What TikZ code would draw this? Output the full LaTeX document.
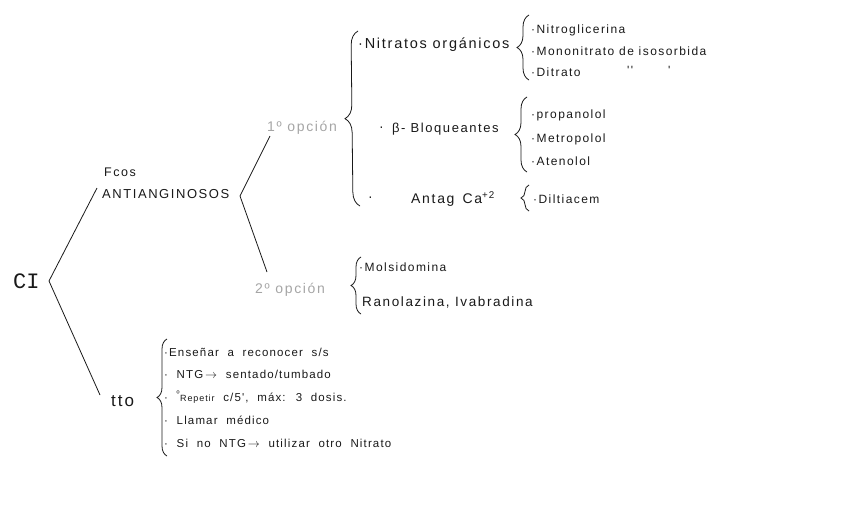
\documentclass[tikz,border=0pt]{standalone}
\usepackage{fontspec}
\setmainfont{Liberation Sans}
\newfontfamily\hand[LetterSpace=12]{Liberation Sans}
\newfontfamily\handw[LetterSpace=10,WordSpace=2]{Liberation Sans}
\newfontfamily\handmono{Liberation Mono}
\usetikzlibrary{decorations.pathreplacing}
\definecolor{pen}{RGB}{25,25,25}
\definecolor{pencil}{RGB}{165,165,165}
\newcommand{\arr}{\,$\rightarrow$}
\begin{document}
\begin{tikzpicture}[x=1pt,y=-1pt,
  txt/.style={anchor=west,inner sep=0pt,text=pen},
  bigt/.style={txt,font=\hand\fontsize{14}{14}\selectfont},
  midt/.style={txt,font=\hand\fontsize{12}{12}\selectfont},
  smallt/.style={txt,font=\handw\fontsize{11.5}{11.5}\selectfont},
  grayt/.style={txt,text=pencil,font=\hand\fontsize{14}{14}\selectfont},
  branch/.style={draw=pen,line width=0.8pt},
  bracket/.style={draw=pen,line width=0.8pt,decorate,decoration={brace,amplitude=#1}},
  bracket/.default=10pt]
\useasboundingbox (0,0) rectangle (848,530);

% root
\node[txt,font=\handmono\fontsize{22}{22}\selectfont] (ci) at (13,281) {CI};
\coordinate (civ) at (49,281);
\coordinate (fcosend) at (97,188);
\coordinate (ttoend) at (100,395);
\draw[branch] (fcosend) -- (civ) -- (ttoend);

% fármacos antianginosos
\node[midt,font=\hand\fontsize{12.5}{12.5}\selectfont] (fcos) at (104,172) {Fcos};
\node[midt,font=\hand\fontsize{13}{13}\selectfont] (anti) at (102,194) {ANTIANGINOSOS};
\coordinate (antiv) at (240,196);
\coordinate (op1end) at (270,136);
\coordinate (op2end) at (267,272);
\draw[branch] (op1end) -- (antiv) -- (op2end);

\node[grayt] (op1) at (267,128) {1º opción};
\node[grayt] (op2) at (255,290) {2º opción};

% 1a opcion brace
\coordinate (b1top) at (358,31);
\coordinate (b1bot) at (360,206);
\draw[bracket=14pt] (b1bot) -- (b1top);

\node[bigt,font=\hand\fontsize{14.5}{14.5}\selectfont] (nitr) at (358,45) {·Nitratos orgánicos};
\draw[bracket=12pt] (529,80) coordinate (b2bot) -- (529,15) coordinate (b2top);
\node[midt] (ng) at (531,30) {·Nitroglicerina};
\node[midt] (mn) at (531,51) {·Mononitrato de isosorbida};
\node[midt] (dn) at (531,72) {·Ditrato};
\node[midt] (dit1) at (627,70) {''};
\node[midt] (dit2) at (668,70) {'};

\node[bigt] (dot2) at (379,129) {·};
\node[bigt,font=\hand\fontsize{13}{13}\selectfont] (beta) at (392,129) {β- Bloqueantes};
\draw[bracket=12pt] (527,172) coordinate (b3bot) -- (527,97) coordinate (b3top);
\node[midt] (pr) at (531,115) {·propanolol};
\node[midt] (me) at (531,139) {·Metropolol};
\node[midt] (at) at (531,161) {·Atenolol};

\node[bigt] (dot3) at (368,199) {·};
\node[bigt] (ant) at (411,199) {Antag\hspace{8pt}Ca\textsuperscript{+2}};
\draw[bracket=8pt] (529,211) coordinate (b4bot) -- (529,185) coordinate (b4top);
\node[midt] (dil) at (533,199) {·Diltiacem};

% 2a opcion
\draw[bracket=10pt] (361,314) coordinate (b5bot) -- (361,257) coordinate (b5top);
\node[midt] (mol) at (359,267) {·Molsidomina};
\node[midt,font=\hand\fontsize{13.5}{13.5}\selectfont] (ran) at (362,302) {Ranolazina, Ivabradina};

% tratamiento
\node[txt,font=\hand\fontsize{17}{17}\selectfont] (tto) at (111,401) {tto};
\draw[bracket=10pt] (167,456) coordinate (b6bot) -- (167,339) coordinate (b6top);
\node[smallt] (t1) at (164,352) {·Enseñar a reconocer s/s};
\node[smallt] (t2) at (164,374) {· NTG\arr{} sentado/tumbado};
\node[smallt] (t3) at (164,397) {· \textsuperscript{º}{\fontsize{9}{9}\selectfont Repetir} c/5', máx: 3 dosis.};
\node[smallt] (t4) at (164,420) {· Llamar médico};
\node[smallt] (t5) at (164,443) {· Si no NTG\arr{} utilizar otro Nitrato};
\end{tikzpicture}
\end{document}
